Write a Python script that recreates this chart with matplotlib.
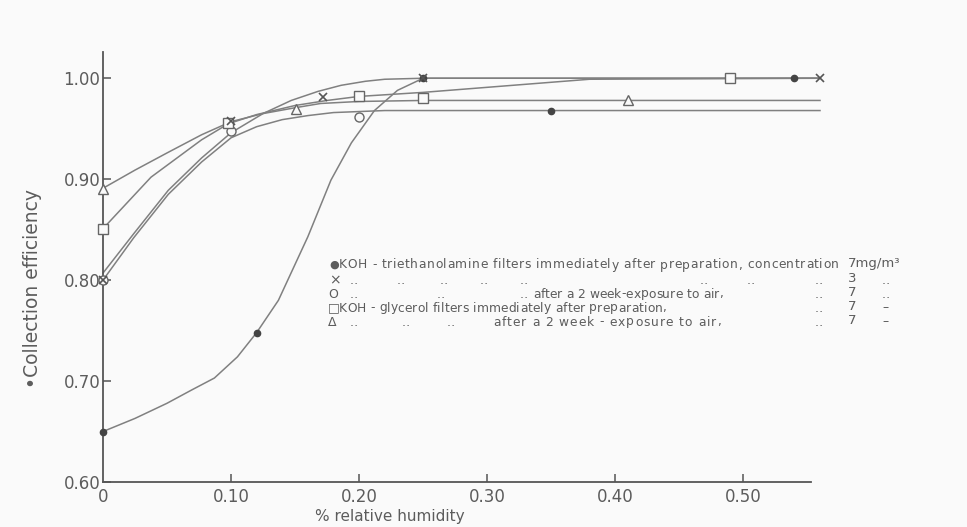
import matplotlib
matplotlib.use("Agg")
import matplotlib.pyplot as plt

# ---------------- data ----------------
# measured points (markers)
dot_x = [0.0, 0.12, 0.25, 0.35, 0.54]
dot_y = [0.650, 0.748, 1.000, 0.968, 1.000]
cross_x = [0.0, 0.10, 0.172, 0.25, 0.56]
cross_y = [0.800, 0.958, 0.981, 1.000, 1.000]
circ_x = [0.0, 0.10, 0.20]
circ_y = [0.800, 0.948, 0.962]
sq_x = [0.0, 0.098, 0.20, 0.25, 0.49]
sq_y = [0.851, 0.956, 0.982, 0.980, 1.000]
tri_x = [0.0, 0.151, 0.41]
tri_y = [0.890, 0.970, 0.978]

# hand-drawn curves
curve_dot_x = [0.0, 0.025, 0.05, 0.069, 0.087, 0.105, 0.12, 0.137, 0.16, 0.178, 0.194, 0.212, 0.23, 0.25, 0.56]
curve_dot_y = [0.650, 0.663, 0.678, 0.691, 0.703, 0.724, 0.748, 0.780, 0.843, 0.899, 0.936, 0.968, 0.988, 1.000, 1.000]
curve_cross_x = [0.0, 0.024, 0.051, 0.077, 0.10, 0.125, 0.147, 0.168, 0.186, 0.205, 0.22, 0.25, 0.56]
curve_cross_y = [0.807, 0.846, 0.889, 0.921, 0.946, 0.965, 0.978, 0.987, 0.993, 0.997, 0.999, 1.000, 1.000]
curve_circ_x = [0.0, 0.024, 0.051, 0.077, 0.10, 0.12, 0.14, 0.16, 0.18, 0.20, 0.22, 0.56]
curve_circ_y = [0.800, 0.842, 0.885, 0.917, 0.941, 0.952, 0.959, 0.963, 0.966, 0.967, 0.968, 0.968]
curve_sq_x = [0.0, 0.0375, 0.077, 0.098, 0.12, 0.15, 0.175, 0.20, 0.25, 0.30, 0.34, 0.38, 0.56]
curve_sq_y = [0.851, 0.902, 0.939, 0.955, 0.964, 0.973, 0.978, 0.982, 0.986, 0.991, 0.995, 0.999, 1.000]
curve_tri_x = [0.0, 0.025, 0.05, 0.077, 0.10, 0.125, 0.151, 0.17, 0.20, 0.25, 0.56]
curve_tri_y = [0.891, 0.909, 0.926, 0.944, 0.957, 0.965, 0.971, 0.975, 0.977, 0.978, 0.978]

x_ticks = [0.0, 0.10, 0.20, 0.30, 0.40, 0.50]
x_ticklabels = ["0", "0.10", "0.20", "0.30", "0.40", "0.50"]
y_ticks = [0.60, 0.70, 0.80, 0.90, 1.00]
y_ticklabels = ["0.60", "0.70", "0.80", "0.90", "1.00"]

legend_desc = [
    "KOH - triethanolamine filters immediately after preparation, concentration",
    "after a 2 week-exposure to air,",
    "KOH - glycerol filters immediately after preparation,",
    "after a 2 week - exposure to air,",
]
legend_conc = ["7mg/m³", "3", "7", "7", "7"]

# ---------------- figure ----------------
W, H = 967, 527
BG = "#fafafa"
fig = plt.figure(figsize=(W / 100, H / 100), dpi=100, facecolor=BG)
ax = fig.add_axes([103 / W, 1 - 482 / H, (820 - 103) / W, (482 - 52) / H])
ax.set_facecolor(BG)

LC = "#808080"
TC = "#5c5c5c"

for cx, cy in [(curve_dot_x, curve_dot_y), (curve_cross_x, curve_cross_y),
               (curve_circ_x, curve_circ_y), (curve_sq_x, curve_sq_y),
               (curve_tri_x, curve_tri_y)]:
    ax.plot(cx, cy, color=LC, lw=1.1, solid_joinstyle="round", clip_on=False, zorder=2)

ax.plot(dot_x, dot_y, ls="none", marker="o", ms=4.5, mfc="#444444", mec="#444444", clip_on=False, zorder=4)
ax.plot(cross_x, cross_y, ls="none", marker="x", ms=5.5, mew=1.2, color="#555555", clip_on=False, zorder=4)
ax.plot(circ_x, circ_y, ls="none", marker="o", ms=6.5, mfc=BG, mec="#666666", mew=1.0, clip_on=False, zorder=3)
ax.plot(sq_x, sq_y, ls="none", marker="s", ms=6.5, mfc=BG, mec="#666666", mew=1.0, clip_on=False, zorder=3)
ax.plot(tri_x, tri_y, ls="none", marker="^", ms=6.5, mfc=BG, mec="#666666", mew=1.0, clip_on=False, zorder=3)

ax.set_xlim(0, 0.56)
ax.set_ylim(0.60, 1.026)
for s in ["top", "right"]:
    ax.spines[s].set_visible(False)
for s in ["left", "bottom"]:
    ax.spines[s].set_color("#555555")
    ax.spines[s].set_linewidth(1.3)
ax.spines["bottom"].set_bounds(0, 0.553)

ax.set_xticks(x_ticks)
ax.set_xticklabels(x_ticklabels)
ax.set_yticks(y_ticks)
ax.set_yticklabels(y_ticklabels)
ax.tick_params(direction="in", length=6, width=1.1, color="#555555",
               labelcolor=TC, labelsize=12, pad=4)
ax.tick_params(axis="y", pad=2)
ax.xaxis.get_major_ticks()[0].tick1line.set_visible(False)

renderer = fig.canvas.get_renderer()

def ft(x, y, s, **kw):
    kw.setdefault("color", TC)
    kw.setdefault("fontsize", 8.8)
    kw.setdefault("va", "center")
    kw.setdefault("ha", "left")
    return fig.text(x / W, 1 - y / H, s, **kw)

def spaced(x0, x1, y, s, fs=8.8):
    """Letter-spaced text filling the span x0..x1 (pixels), baseline at y."""
    t = ft(0, y, s, fontsize=fs, va="baseline")
    natural = t.get_window_extent(renderer).width
    t.remove()
    extra = max((x1 - x0 - natural) / max(len(s) - 1, 1), 0)
    w = ft(0, y, "a a", fontsize=fs, va="baseline")
    wa = ft(0, y, "aa", fontsize=fs, va="baseline")
    sw = w.get_window_extent(renderer).width - wa.get_window_extent(renderer).width
    w.remove(); wa.remove()
    x = x0
    for ch in s:
        if ch == " ":
            x += sw + extra
            continue
        c = ft(x, y, ch, fontsize=fs, va="baseline")
        x += c.get_window_extent(renderer).width + extra

# axis labels
ft(33, 288, "•Collection efficiency", rotation=90, fontsize=13.5, ha="center")
ft(390, 517, "% relative humidity", fontsize=11, ha="center")

# legend block (text inside the plot)
D = "‥"
rows_y = [265, 280, 294, 308, 322]
base = [y + 3.5 for y in rows_y]
# markers
ft(329, rows_y[0], "●", fontsize=8)
ft(329, rows_y[1], "×", fontsize=10)
ft(328, rows_y[2], "O", fontsize=9)
ft(328, rows_y[3], "□", fontsize=9)
ft(328, rows_y[4], "Δ", fontsize=9)
# descriptions
spaced(339, 838, base[0], legend_desc[0])
spaced(533, 715, base[2], legend_desc[1])
spaced(339, 665, base[3], legend_desc[2])
spaced(493, 720, base[4], legend_desc[3])
# ditto marks
for xx in [350, 397, 440, 480, 520, 700, 747, 815]:
    ft(xx, rows_y[1], D)
for xx in [350, 437, 520, 815]:
    ft(xx, rows_y[2], D)
ft(815, rows_y[3], D)
for xx in [350, 402, 447, 815]:
    ft(xx, rows_y[4], D)
# concentrations
for yy, c in zip(rows_y, legend_conc):
    ft(848, yy - 1, c, fontsize=9.5)
ft(882, rows_y[1], D)
ft(882, rows_y[2], D)
ft(882, rows_y[3], "–")
ft(882, rows_y[4], "–")

fig.savefig("out.png", dpi=100, facecolor=fig.get_facecolor())
